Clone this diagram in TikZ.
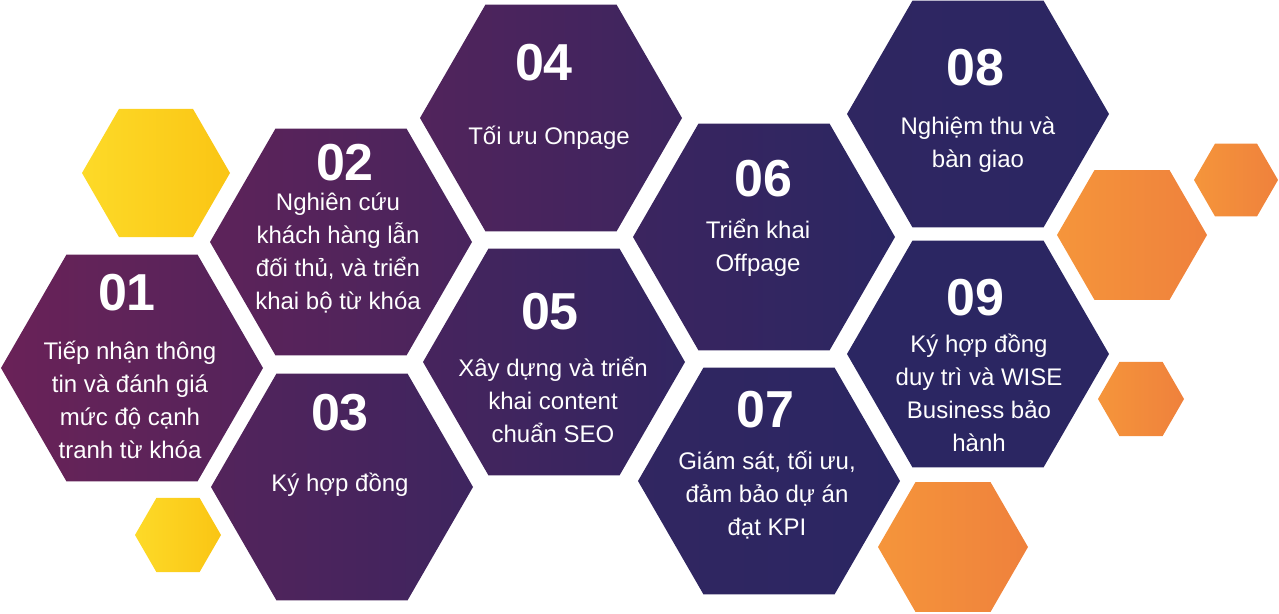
\documentclass[tikz,border=0pt]{standalone}
\usepackage{fontspec}
\setmainfont{Liberation Sans}
\usepackage{tikz}
\usetikzlibrary{shapes.geometric}

\definecolor{plum}{HTML}{6C2257}
\definecolor{navy}{HTML}{2B2662}
\definecolor{sunA}{HTML}{FDDA28}
\definecolor{sunB}{HTML}{FAC514}
\definecolor{peelA}{HTML}{F5953B}
\definecolor{peelB}{HTML}{EF813C}

\begin{document}
\begin{tikzpicture}[x=1pt,y=-1pt,
    hex/.style={regular polygon, regular polygon sides=6, draw=none,
      inner sep=0pt, outer sep=0pt, minimum size=#1},
    cell/.style 2 args={hex=262pt, left color=navy!#1!plum, right color=navy!#2!plum},
    sun/.style={hex=#1, left color=sunA, right color=sunB},
    peel/.style={hex=#1, left color=peelA, right color=peelB},
    num/.style={text=white, inner sep=0pt, font=\bfseries\fontsize{52}{52}\selectfont},
    txt/.style={text=white, inner sep=0pt, align=center, font=\fontsize{24}{33}\selectfont}]
  \useasboundingbox (0,0) rectangle (1279,613);
  % side cells
  \node[sun=148pt] (y1) at (156,173) {};
  \node[sun=86pt] (y2) at (178,535) {};
  \node[peel=150pt] (o1) at (1132,235) {};
  \node[peel=84pt] (o2) at (1236,180) {};
  \node[peel=86pt] (o3) at (1141,399) {};
  \node[peel=150pt] (o4) at (953,547) {};
  % steps
  \node[cell={4}{37}] (h01) at (132,368) {};
  \node[cell={23}{55}] (h02) at (341,242) {};
  \node[cell={38}{71}] (h03) at (342,487) {};
  \node[cell={41}{74}] (h04) at (551,118) {};
  \node[cell={57}{90}] (h05) at (554,362) {};
  \node[cell={75}{100}] (h06) at (764,237) {};
  \node[cell={91}{100}] (h07) at (769,481) {};
  \node[cell={94}{100}] (h08) at (978,114) {};
  \node[cell={100}{100}] (h09) at (978,354) {};

  \node[num] (n01) at (127,293) {01};
  \node[txt] (t01) at (130,400) {Tiếp nhận thông\\tin và đánh giá\\mức độ cạnh\\tranh từ khóa};
  \node[num] (n02) at (345,163) {02};
  \node[txt] (t02) at (338,253) {Nghiên cứu\\khách hàng lẫn\\đối thủ, và triển\\khai bộ từ khóa};
  \node[num] (n03) at (340,413) {03};
  \node[txt] (t03) at (340,485) {Ký hợp đồng};
  \node[num] (n04) at (544,63) {04};
  \node[txt] (t04) at (549,138) {Tối ưu Onpage};
  \node[num] (n05) at (550,312) {05};
  \node[txt] (t05) at (553,400) {Xây dựng và triển\\khai content\\chuẩn SEO};
  \node[num] (n06) at (763,179) {06};
  \node[txt] (t06) at (758,248) {Triển khai\\Offpage};
  \node[num] (n07) at (765,410) {07};
  \node[txt] (t07) at (767,495) {Giám sát, tối ưu,\\đảm bảo dự án\\đạt KPI};
  \node[num] (n08) at (975,68) {08};
  \node[txt] (t08) at (978,145) {Nghiệm thu và\\bàn giao};
  \node[num] (n09) at (975,298) {09};
  \node[txt] (t09) at (979,393) {Ký hợp đồng\\duy trì và WISE\\Business bảo\\hành};
\end{tikzpicture}
\end{document}
